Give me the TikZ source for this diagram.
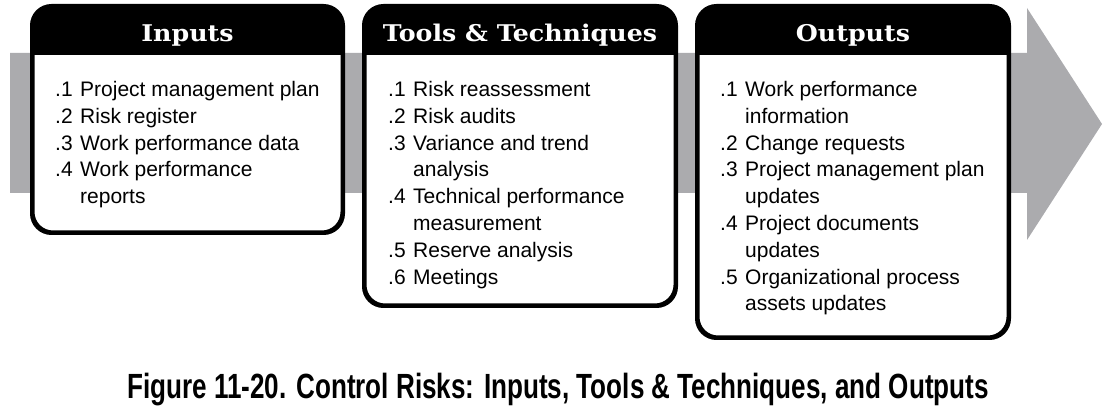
\documentclass[tikz,border=0pt]{standalone}
\usepackage{fontspec}
\setmainfont{Liberation Sans}
\newfontfamily\headfont[FakeStretch=1.1]{DejaVu Serif}
\newfontfamily\capfont[FakeStretch=0.745]{Liberation Sans}
\definecolor{bandgray}{RGB}{171,171,174}

\newcommand{\itm}[1]{\makebox[25pt][l]{#1}}
\newcommand{\cont}{\hspace*{25pt}}

\tikzset{
  panel/.style={draw=black, line width=3pt, fill=white, rounded corners=20pt,
    inner sep=0pt},
  headtext/.style={text=white, font=\headfont\bfseries\fontsize{23}{26}\selectfont,
    inner sep=0pt, anchor=base},
  itemlist/.style={align=left, anchor=north west, inner sep=0pt,
    font=\fontsize{21}{26.8}\selectfont},
}

\begin{document}
\begin{tikzpicture}[x=1pt, y=-1pt]
\useasboundingbox (0,0) rectangle (1113,411);

% process arrow behind the panels
\fill[bandgray] (10,53) -- (1027,53) -- (1027,8) -- (1102,124)
  -- (1027,240) -- (1027,193) -- (10,193) -- cycle;

% panels
\node[panel, minimum width=309pt, minimum height=225pt] (inputs) at (187.5,119.5) {};
\node[panel, minimum width=310pt, minimum height=298pt] (tools) at (520,156) {};
\node[panel, minimum width=310pt, minimum height=330pt] (outputs) at (853,172) {};

% black header bands
\foreach \p in {inputs, tools, outputs}{
  \begin{scope}
    \clip[rounded corners=20pt] (\p.north west) rectangle (\p.south east);
    \fill[black] (\p.north west) rectangle ([yshift=-50pt]\p.north east);
  \end{scope}
  \draw[line width=3pt, rounded corners=20pt] (\p.north west) rectangle (\p.south east);
}

\node[headtext] (hin) at (inputs.center |- 0,42) {Inputs};
\node[headtext] (htt) at (tools.center |- 0,42) {Tools \& Techniques};
\node[headtext] (hout) at (outputs.center |- 0,42) {Outputs};

% item lists (top of the first line of text)
\node[itemlist] (lin) at (55,81) {%
  \itm{.1}Project management plan\\
  \itm{.2}Risk register\\
  \itm{.3}Work performance data\\
  \itm{.4}Work performance\\
  \cont reports};

\node[itemlist] (ltt) at (388,81) {%
  \itm{.1}Risk reassessment\\
  \itm{.2}Risk audits\\
  \itm{.3}Variance and trend\\
  \cont analysis\\
  \itm{.4}Technical performance\\
  \cont measurement\\
  \itm{.5}Reserve analysis\\
  \itm{.6}Meetings};

\node[itemlist] (lout) at (720,81) {%
  \itm{.1}Work performance\\
  \cont information\\
  \itm{.2}Change requests\\
  \itm{.3}Project management plan\\
  \cont updates\\
  \itm{.4}Project documents\\
  \cont updates\\
  \itm{.5}Organizational process\\
  \cont assets updates};

% caption
\node[font=\capfont\bfseries\fontsize{35}{40}\selectfont, anchor=base, inner sep=0pt]
  (cap) at (558,398) {Figure 11-20. Control Risks: Inputs, Tools \& Techniques, and Outputs};
\end{tikzpicture}
\end{document}
